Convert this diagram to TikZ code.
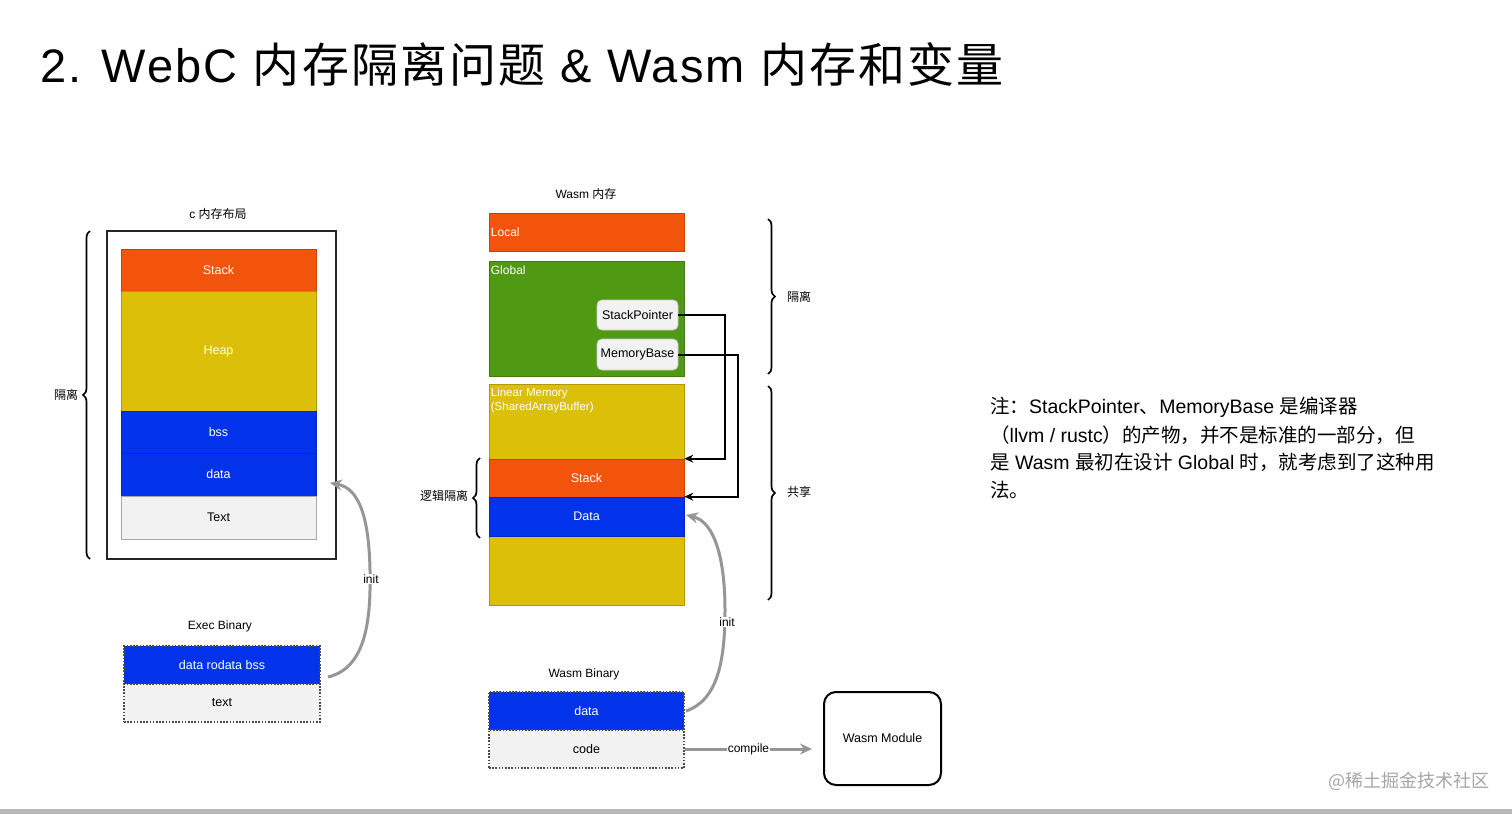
\documentclass[tikz,border=0pt]{standalone}
\usepackage{fontspec}
\setmainfont{Liberation Sans}
\newfontfamily\cjk{Noto Sans CJK SC}
\newfontfamily\titlelat[LetterSpace=4.5]{Liberation Sans}
\newfontfamily\titlecjk[LetterSpace=4.5]{Noto Sans CJK SC}
\usetikzlibrary{decorations.pathreplacing,arrows.meta,calc}
\definecolor{worange}{RGB}{242,84,12}
\definecolor{wyellow}{RGB}{219,191,8}
\definecolor{wblue}{RGB}{2,51,235}
\definecolor{wgreen}{RGB}{79,154,18}
\definecolor{wgrey}{RGB}{242,242,242}
\definecolor{wline}{RGB}{150,150,150}
\begin{document}
\begin{tikzpicture}[x=1pt,y=-1pt,
  lbl/.style={font=\fontsize{12}{14}\selectfont, inner sep=0pt},
  blk/.style={draw=#1!80!black, line width=0.6pt, fill=#1, minimum width=195pt, inner sep=0pt,
     font=\fontsize{12.5}{14}\selectfont, text=white},
  greyblk/.style={draw=gray!70, line width=0.6pt, fill=wgrey, minimum width=195pt, inner sep=0pt,
     font=\fontsize{12.5}{14}\selectfont, text=black},
  dotblk/.style={draw=black!70, line width=1.8pt, dash pattern=on 1.6pt off 1.6pt, minimum width=196pt, minimum height=38pt, inner sep=0pt,
     font=\fontsize{12.5}{14}\selectfont},
  pill/.style={draw=white!80!black, line width=0.8pt, fill=wgrey, rounded corners=5pt, minimum width=81pt, inner sep=0pt,
     font=\fontsize{12.5}{14}\selectfont},
  bracestyle/.style={decorate, decoration={brace, amplitude=7pt}, line width=1.7pt},
  ptr/.style={line width=2pt, -{Stealth[length=9pt,width=8pt]}},
  initarr/.style={draw=wline, line width=3pt, -{Stealth[length=12pt,width=11pt]}},
  note/.style={anchor=west, inner sep=0pt, font=\fontsize{19.5}{22}\selectfont},
]
\useasboundingbox (0,0) rectangle (1512,814);
\fill[white] (0,0) rectangle (1512,814);
\fill[gray!55] (0,809) rectangle (1512,814);

% title
\node[anchor=west, inner sep=0pt, font=\fontsize{47}{50}\selectfont\titlelat] (title) at (40,64)
  {2. WebC {\titlecjk 内存隔离问题} \& Wasm {\titlecjk 内存和变量}};

% ---------- left: C memory layout
\node[lbl] (ctitle) at (218,214) {c {\cjk 内存布局}};
\node[draw=black!85, line width=1.8pt, minimum width=229pt, minimum height=328pt, inner sep=0pt] (outer) at (221.5,395) {};
\node[blk=worange, minimum height=42pt, text=white!90!yellow] (cstack) at (218.5,270) {Stack};
\node[blk=wyellow, minimum height=120pt, text=white!90!yellow] (heap) at (218.5,351) {Heap};
\node[blk=wblue, minimum height=42pt] (bss) at (218.5,432) {bss};
\node[blk=wblue, minimum height=43pt] (cdata) at (218.5,474.5) {data};
\node[greyblk, minimum height=43pt] (ctext) at (218.5,517.5) {Text};
\draw[bracestyle] (90,559) -- (90,231);
\node[lbl] (lgeli) at (66,395) {\cjk 隔离};

% exec binary
\node[lbl] (ebtitle) at (220,626) {Exec Binary};
\node[dotblk, fill=wblue, text=white] (eb1) at (222,665) {data rodata bss};
\node[dotblk, fill=wgrey] (eb2) at (222,703) {text};

\coordinate (cinitS) at (328,677);
\coordinate (cinitE) at (330,483);
\draw[initarr] (cinitS) .. controls (366,668) and (371,620) .. (370,570)
   .. controls (369,520) and (360,488) .. (cinitE);
\node[lbl, fill=white, inner sep=1pt] (cinit) at (371,579) {init};

% ---------- middle: Wasm memory
\node[lbl] (wtitle) at (586,194) {Wasm {\cjk 内存}};
\node[blk=worange, minimum height=38pt] (local) at (586.5,232) {};
\node[anchor=west, lbl, text=white] (locallbl) at (local.west) {\,Local};
\node[blk=wgreen, minimum height=115pt] (global) at (586.5,318.5) {};
\node[anchor=north west, lbl, text=white] (globallbl) at ($(global.north west)+(2,5)$) {Global};
\node[pill, minimum height=30pt] (sp) at (637.5,315) {StackPointer};
\node[pill, minimum height=31pt] (mb) at (637.5,354.5) {MemoryBase};
\node[blk=wyellow, minimum height=221pt] (linear) at (586.5,494.5) {};
\node[anchor=north west, inner sep=0pt, align=left, text=white, font=\fontsize{11.5}{14.5}\selectfont] (linearlbl)
  at ($(linear.north west)+(2,4)$) {Linear Memory\\(SharedArrayBuffer)};
\node[blk=worange, minimum height=38pt] (wstack) at (586.5,478) {Stack};
\node[blk=wblue, minimum height=39pt] (wdata) at (586.5,516.5) {Data};

\draw[ptr] (sp.east) -- ++(47,0) |- (wstack.north east);
\draw[ptr] (mb.east) -- ++(60,0) |- (wdata.north east);

\draw[bracestyle] (768,219) -- (768,374);
\node[lbl] (rgeli) at (799,297) {\cjk 隔离};
\draw[bracestyle] (768,386) -- (768,600);
\node[lbl] (share) at (799,492) {\cjk 共享};
\draw[bracestyle] (480,538) -- (480,458);
\node[lbl] (logic) at (444,496) {\cjk 逻辑隔离};

% wasm binary
\node[lbl] (wbtitle) at (584,674) {Wasm Binary};
\node[dotblk, minimum width=195pt, fill=wblue, text=white] (wb1) at (586.5,711) {data};
\node[dotblk, minimum width=195pt, fill=wgrey] (wb2) at (586.5,749) {code};

\coordinate (winitS) at (686,711);
\coordinate (winitE) at (686,515);
\draw[initarr] (winitS) .. controls (718,700) and (725,660) .. (725,610)
   .. controls (725,560) and (715,522) .. (winitE);
\node[lbl, fill=white, inner sep=1pt] (winit) at (727,622) {init};

\node[draw=black, line width=2pt, rounded corners=12pt, minimum width=117pt, minimum height=93pt, inner sep=0pt,
  font=\fontsize{12.5}{14}\selectfont] (module) at (882.5,738.5) {Wasm Module};
\coordinate (compE) at (812,749);
\draw[draw=wline, line width=3pt, -{Stealth[length=12pt,width=11pt]}] (wb2.east) -- (compE)
  node[pos=0.5, lbl, fill=white, inner sep=1pt, text=black] (complbl) {compile};

% note
\node[note] (n1) at (990,407) {{\cjk 注：}StackPointer{\cjk 、}MemoryBase {\cjk 是编译器}};
\node[note] (n2) at (990,435) {{\cjk （}llvm / rustc{\cjk ）的产物，并不是标准的一部分，但}};
\node[note] (n3) at (990,462) {{\cjk 是} Wasm {\cjk 最初在设计} Global {\cjk 时，就考虑到了这种用}};
\node[note] (n4) at (990,490) {\cjk 法。};

% watermark
\node[anchor=east, inner sep=0pt, text=gray!70, font=\fontsize{18}{20}\selectfont\cjk] (wm) at (1490,781) {@稀土掘金技术社区};
\end{tikzpicture}
\end{document}
